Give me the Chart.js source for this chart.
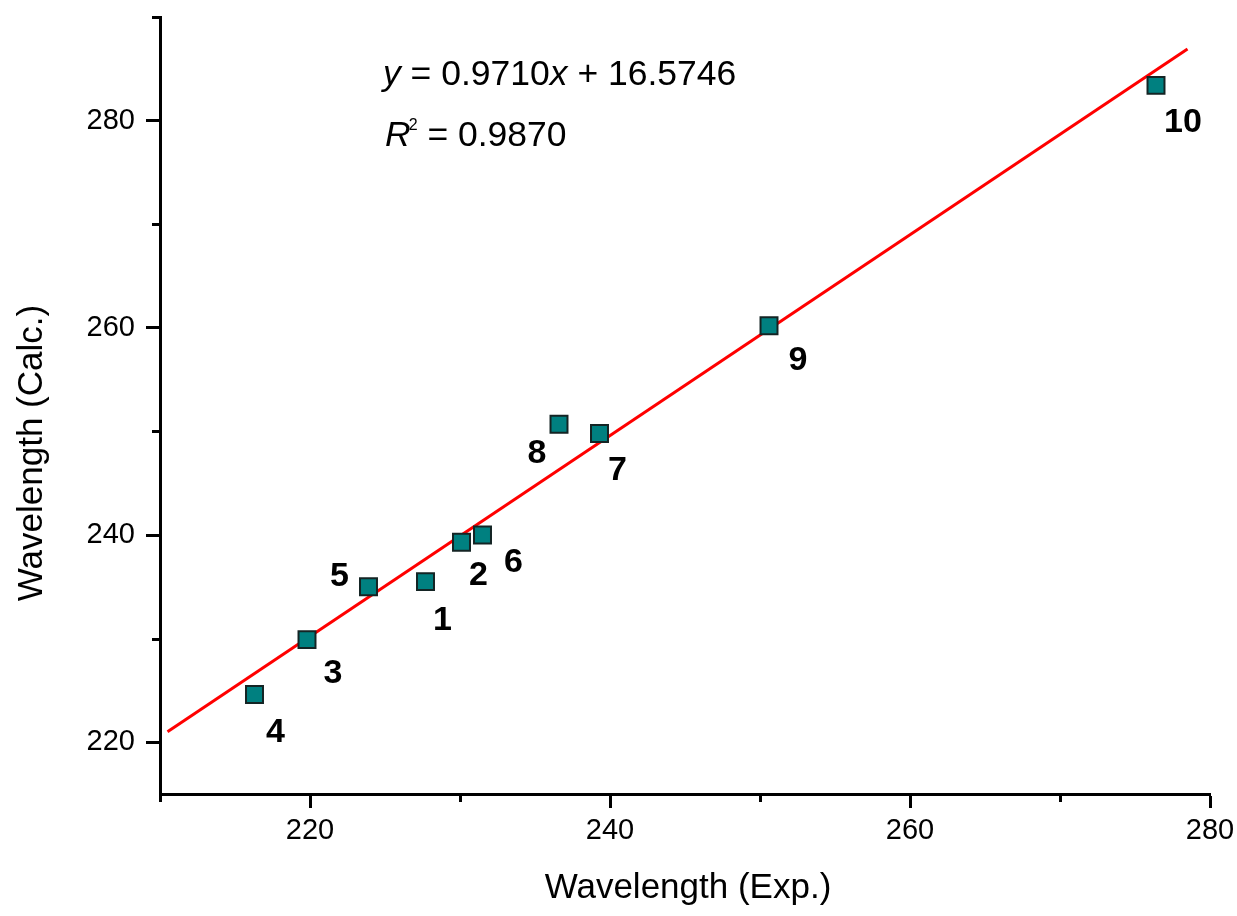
<!DOCTYPE html>
<html>
<head>
<meta charset="utf-8">
<title>Wavelength</title>
<script src="https://cdn.jsdelivr.net/npm/chart.js@4.4.0/dist/chart.umd.min.js"></script>
<style>
  html, body { margin: 0; padding: 0; background: #fff; }
  #wrap { width: 1237px; height: 916px; }
</style>
</head>
<body>
<div id="wrap"><canvas id="grafico"></canvas></div>
<script>
// dados
const nomesPontos = ['1', '2', '3', '4', '5', '6', '7', '8', '9', '10'];
const valoresExp = [227.7, 230.1, 219.8, 216.3, 223.9, 231.5, 239.3, 236.6, 250.6, 276.4];
const valoresCalc = [235.5, 239.3, 229.9, 224.6, 235.0, 240.0, 249.8, 250.7, 260.2, 283.4];

// extremos da reta de ajuste
const ajusteX = [210.5, 278.5];
const ajusteY = [221.0, 286.9];

// marcas dos eixos
const xMaiores = [220, 240, 260, 280];
const xMenores = [210, 230, 250, 270];
const yMaiores = [220, 240, 260, 280];
const yMenores = [230, 250, 270, 290];

// deslocamento (px) dos rótulos em relação aos pontos
const deslocRotulos = [[17, 39], [17, 33], [26, 34], [21, 38], [-29, -10], [31, 28], [18, 37], [-22, 29], [29, 35], [27, 37]];

const FONTE = "'Liberation Sans', Arial, sans-serif";

// marcas menores, títulos, rótulos e equação
const extras = {
  id: 'extras',
  afterDraw(chart) {
    const ctx = chart.ctx;
    const sx = chart.scales.x;
    const sy = chart.scales.y;
    const area = chart.chartArea;
    ctx.save();

    ctx.strokeStyle = '#000';
    ctx.lineWidth = 3;
    xMenores.forEach(v => {
      const px = Math.round(sx.getPixelForValue(v)) + 0.5;
      ctx.beginPath();
      ctx.moveTo(px, area.bottom);
      ctx.lineTo(px, area.bottom + 8);
      ctx.stroke();
    });
    yMenores.forEach(v => {
      const py = Math.round(sy.getPixelForValue(v)) + 0.5;
      ctx.beginPath();
      ctx.moveTo(area.left, py);
      ctx.lineTo(area.left - 8, py);
      ctx.stroke();
    });

    // rótulos dos pontos
    ctx.fillStyle = '#000';
    ctx.font = 'bold 34px ' + FONTE;
    ctx.textAlign = 'center';
    ctx.textBaseline = 'middle';
    nomesPontos.forEach((nome, i) => {
      const px = sx.getPixelForValue(valoresExp[i]) + deslocRotulos[i][0];
      const py = sy.getPixelForValue(valoresCalc[i]) + deslocRotulos[i][1];
      ctx.fillText(nome, px, py);
    });

    // títulos dos eixos
    ctx.font = '35px ' + FONTE;
    ctx.fillText('Wavelength (Exp.)', 688, 888);
    ctx.save();
    ctx.translate(32, 453);
    ctx.rotate(-Math.PI / 2);
    ctx.fillText('Wavelength (Calc.)', 0, 0);
    ctx.restore();

    // equação
    ctx.textAlign = 'left';
    ctx.textBaseline = 'alphabetic';
    let x = 383;
    const partes = [['y', true], [' = 0.9710', false], ['x', true], [' + 16.5746', false]];
    partes.forEach(([t, it]) => {
      ctx.font = (it ? 'italic ' : '') + '35.5px ' + FONTE;
      ctx.fillText(t, x, 85);
      x += ctx.measureText(t).width;
    });
    x = 385;
    ctx.font = 'italic 35.5px ' + FONTE;
    ctx.fillText('R', x, 146);
    x += ctx.measureText('R').width;
    ctx.font = '16px ' + FONTE;
    ctx.fillText('2', x - 2, 130);
    x += ctx.measureText('2').width - 2;
    ctx.font = '35.5px ' + FONTE;
    ctx.fillText(' = 0.9870', x, 146);

    ctx.restore();
  }
};

const ctx = document.getElementById('grafico').getContext('2d');
new Chart(ctx, {
  type: 'scatter',
  data: {
    datasets: [
      {
        label: 'Pontos',
        data: valoresExp.map((v, i) => ({ x: v, y: valoresCalc[i] })),
        pointStyle: 'rect',
        pointRadius: 12,
        backgroundColor: '#008080',
        borderColor: '#142424',
        borderWidth: 2,
        order: 0
      },
      {
        label: 'Ajuste',
        data: ajusteX.map((v, i) => ({ x: v, y: ajusteY[i] })),
        showLine: true,
        pointRadius: 0,
        borderColor: '#ff0000',
        borderWidth: 3,
        order: 1
      }
    ]
  },
  options: {
    responsive: true,
    maintainAspectRatio: false,
    animation: false,
    events: [],
    layout: { padding: { left: 0, top: 17, right: 27, bottom: 0 } },
    plugins: {
      legend: { display: false },
      tooltip: { enabled: false }
    },
    scales: {
      x: {
        type: 'linear',
        min: 210,
        max: 280,
        afterBuildTicks: s => { s.ticks = xMaiores.map(v => ({ value: v })); },
        afterFit: s => { s.height = 122; s.paddingLeft = 0; s.paddingRight = 0; },
        ticks: { font: { family: FONTE, size: 29 }, color: '#000', padding: 6, maxRotation: 0 },
        grid: { drawOnChartArea: false, drawTicks: true, tickLength: 14, tickWidth: 3, tickColor: '#000' },
        border: { display: true, color: '#000', width: 3 }
      },
      y: {
        type: 'linear',
        min: 215,
        max: 290,
        afterBuildTicks: s => { s.ticks = yMaiores.map(v => ({ value: v })); },
        afterFit: s => { s.width = 160; s.paddingTop = 0; s.paddingBottom = 0; },
        ticks: { font: { family: FONTE, size: 29 }, color: '#000', padding: 11 },
        grid: { drawOnChartArea: false, drawTicks: true, tickLength: 14, tickWidth: 3, tickColor: '#000' },
        border: { display: true, color: '#000', width: 3 }
      }
    }
  },
  plugins: [extras]
});
</script>
</body>
</html>
